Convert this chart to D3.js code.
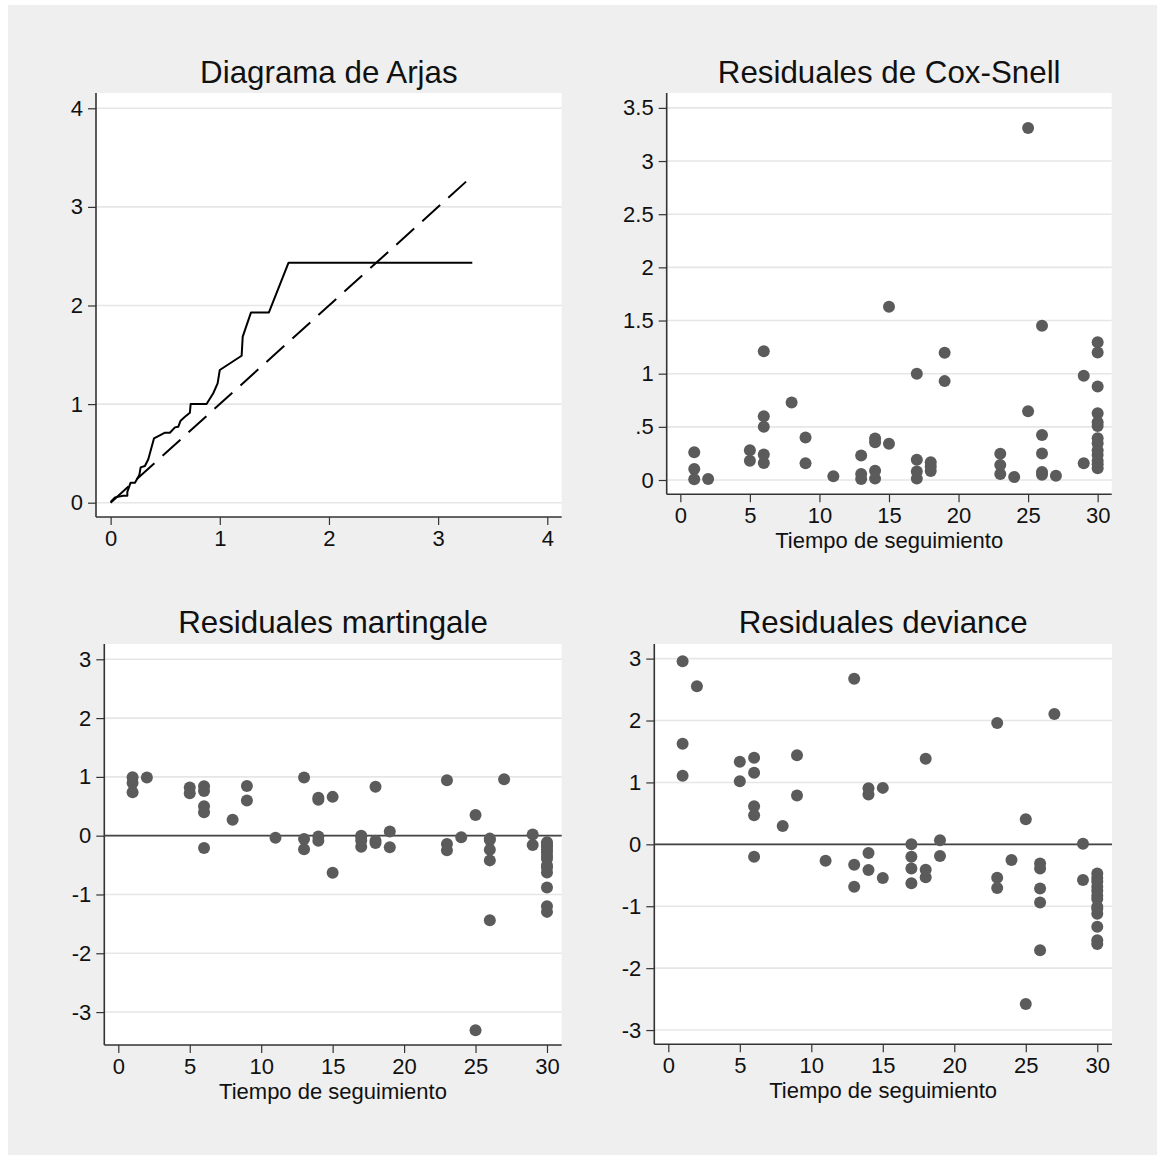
<!DOCTYPE html>
<html><head><meta charset="utf-8">
<script src="https://cdn.jsdelivr.net/npm/d3@7"></script>
<style>body{margin:0;background:#fff}svg{display:block}text{font-family:"Liberation Sans",Arial,sans-serif;fill:#111}</style>
</head><body>
<svg id="c" width="1157" height="1155"></svg>
<script>
// ---------- DATA ----------
const titles = ["Diagrama de Arjas","Residuales de Cox-Snell","Residuales martingale","Residuales deviance"];
const xTitle = "Tiempo de seguimiento";

// Arjas plot: cumulative hazard step curve
const arjasX = [0,0.04,0.116,0.153,0.153,0.183,0.223,0.263,0.275,0.314,0.345,0.397,0.437,0.498,0.543,0.589,0.62,0.641,0.681,0.726,0.733,0.879,0.94,0.98,1.0,1.2,1.21,1.286,1.45,1.63,3.313];
const arjasY = [0.007,0.054,0.07,0.07,0.11,0.203,0.203,0.281,0.358,0.372,0.44,0.652,0.676,0.71,0.71,0.764,0.771,0.832,0.872,0.913,1.0,1.0,1.11,1.21,1.346,1.49,1.684,1.93,1.93,2.434,2.434];
const refX = [0,3.313];
const refY = [0,3.313];
const arjasTicks = [0,1,2,3,4];

// Follow-up times (shared by the residual panels)
const times = [1,1,1,2,5,5,6,6,6,6,6,8,9,9,11,13,13,13,14,14,14,14,15,15,17,17,17,17,18,18,18,19,19,23,23,23,24,25,25,26,26,26,26,26,27,29,29,30,30,30,30,30,30,30,30,30,30,30,30,30];
const coxSnell = [0.26,0.104,0.006,0.01,0.28,0.18,1.21,0.60,0.50,0.24,0.16,0.73,0.40,0.157,0.035,0.23,0.056,0.01,0.39,0.355,0.088,0.013,1.63,0.34,1.0,0.19,0.08,0.013,0.166,0.126,0.085,1.196,0.93,0.248,0.14,0.056,0.028,3.31,0.647,1.45,0.424,0.25,0.075,0.05,0.04,0.98,0.157,1.296,1.20,0.88,0.628,0.543,0.508,0.392,0.345,0.28,0.235,0.18,0.148,0.11];
const martingale = [0.74,0.896,0.994,0.99,0.72,0.82,-0.21,0.40,0.50,0.76,0.84,0.27,0.60,0.843,-0.035,-0.23,-0.056,0.99,0.61,0.645,-0.088,-0.013,-0.63,0.66,0.0,-0.19,-0.08,-0.013,0.834,-0.126,-0.085,-0.196,0.07,-0.248,-0.14,0.944,-0.028,-3.31,0.353,-1.44,-0.42,-0.24,-0.075,-0.05,0.96,0.02,-0.157,-1.296,-1.20,-0.88,-0.628,-0.543,-0.508,-0.392,-0.345,-0.28,-0.235,-0.18,-0.148,-0.11];
const deviance = [1.106,1.624,2.957,2.552,1.02,1.333,-0.20,0.47,0.615,1.155,1.397,0.297,0.788,1.44,-0.264,-0.685,-0.33,2.676,0.804,0.906,-0.415,-0.14,-0.545,0.912,0.0,-0.63,-0.39,-0.20,1.381,-0.53,-0.41,-0.19,0.065,-0.707,-0.54,1.959,-0.254,-2.58,0.405,-1.71,-0.94,-0.712,-0.39,-0.31,2.104,0.01,-0.577,-1.61,-1.55,-1.33,-1.12,-1.04,-1.01,-0.885,-0.83,-0.75,-0.686,-0.60,-0.544,-0.47];

const timeTicks = [0,5,10,15,20,25,30];
const coxTicks = [0,0.5,1,1.5,2,2.5,3,3.5];
const coxTickLabels = ["0",".5","1","1.5","2","2.5","3","3.5"];
const residTicks = [-3,-2,-1,0,1,2,3];

// ---------- DRAW ----------
const svg = d3.select("#c");
svg.append("rect").attr("x",8).attr("y",5).attr("width",1149).attr("height",1150).attr("fill","#efefef");

const DOT = "#5b5b5b", GRID = "#e6e6e6", AX = "#333";
const TF = 22, TTL = 31.3;

function panel(cfg){
  const {left,top,right,bottom,xd,yd,xt,yt,ytl,title,titleY,xlab} = cfg;
  const x = d3.scaleLinear().domain(xd).range([left,right]);
  const y = d3.scaleLinear().domain(yd).range([bottom,top]);
  const g = svg.append("g");
  g.append("rect").attr("x",left).attr("y",top).attr("width",right-left).attr("height",bottom-top).attr("fill","#fff");
  g.selectAll(".gr").data(yt).join("line")
    .attr("x1",left).attr("x2",right).attr("y1",d=>y(d)).attr("y2",d=>y(d))
    .attr("stroke",GRID).attr("stroke-width",1.6);
  g.append("text").attr("x",(left+right)/2).attr("y",titleY).attr("text-anchor","middle")
    .attr("font-size",TTL).text(title);
  const ax = d3.axisBottom(x).tickValues(xt).tickSize(8).tickPadding(5).tickFormat(d3.format("d"));
  const gx = g.append("g").attr("transform",`translate(0,${bottom})`).call(ax);
  const ay = d3.axisLeft(y).tickValues(yt).tickSize(8).tickPadding(5).tickFormat((d,i)=>ytl?ytl[i]:String(d));
  const gy = g.append("g").attr("transform",`translate(${left},0)`).call(ay);
  [gx,gy].forEach(a=>{
    a.select(".domain").attr("stroke",AX).attr("stroke-width",1.6).attr("d", a===gx?`M${left},0H${right}`:`M0,${top}V${bottom}`);
    a.selectAll(".tick line").attr("stroke",AX).attr("stroke-width",1.2);
    a.selectAll(".tick text").attr("font-size",TF).attr("fill","#111").attr("font-family","Liberation Sans, Arial, sans-serif");
  });
  if(xlab) g.append("text").attr("x",(left+right)/2).attr("y",bottom+54).attr("text-anchor","middle").attr("font-size",TF).text(xlab);
  return {g,x,y};
}

// Panel 1: Arjas
{
  const p = panel({left:96,top:93,right:561.7,bottom:517,xd:[-0.134,4.132],yd:[-0.145,4.155],xt:arjasTicks,yt:arjasTicks,title:titles[0],titleY:83});
  const line = d3.line().x(d=>p.x(d[0])).y(d=>p.y(d[1]));
  p.g.append("path").datum(refX.map((v,i)=>[v,refY[i]])).attr("d",line).attr("fill","none")
    .attr("stroke","#000").attr("stroke-width",2).attr("stroke-dasharray","24,11");
  p.g.append("path").datum(arjasX.map((v,i)=>[v,arjasY[i]])).attr("d",line).attr("fill","none")
    .attr("stroke","#000").attr("stroke-width",2).attr("stroke-linejoin","round");
}
// Panel 2: Cox-Snell
{
  const p = panel({left:666.7,top:93,right:1111.7,bottom:494.3,xd:[-0.98,31.01],yd:[-0.1345,3.64],xt:timeTicks,yt:coxTicks,ytl:coxTickLabels,title:titles[1],titleY:83,xlab:xTitle});
  p.g.selectAll("circle").data(times.map((t,i)=>[t,coxSnell[i]])).join("circle")
    .attr("cx",d=>p.x(d[0])).attr("cy",d=>p.y(d[1])).attr("r",6).attr("fill",DOT);
}
// Panel 3: martingale
{
  const p = panel({left:104.3,top:644,right:561.7,bottom:1045,xd:[-0.98,31.03],yd:[-3.56,3.26],xt:timeTicks,yt:residTicks,title:titles[2],titleY:633,xlab:xTitle});
  p.g.append("line").attr("x1",p.x(-0.98)).attr("x2",p.x(31.03)).attr("y1",p.y(0)).attr("y2",p.y(0)).attr("stroke","#444").attr("stroke-width",1.8);
  p.g.selectAll("circle").data(times.map((t,i)=>[t,martingale[i]])).join("circle")
    .attr("cx",d=>p.x(d[0])).attr("cy",d=>p.y(d[1])).attr("r",6).attr("fill",DOT);
}
// Panel 4: deviance
{
  const p = panel({left:654.3,top:644,right:1112,bottom:1044.3,xd:[-0.98,31.03],yd:[-3.23,3.236],xt:timeTicks,yt:residTicks,title:titles[3],titleY:633,xlab:xTitle});
  p.g.append("line").attr("x1",p.x(-0.98)).attr("x2",p.x(31.03)).attr("y1",p.y(0)).attr("y2",p.y(0)).attr("stroke","#444").attr("stroke-width",1.8);
  p.g.selectAll("circle").data(times.map((t,i)=>[t,deviance[i]])).join("circle")
    .attr("cx",d=>p.x(d[0])).attr("cy",d=>p.y(d[1])).attr("r",6).attr("fill",DOT);
}
</script>
</body></html>
